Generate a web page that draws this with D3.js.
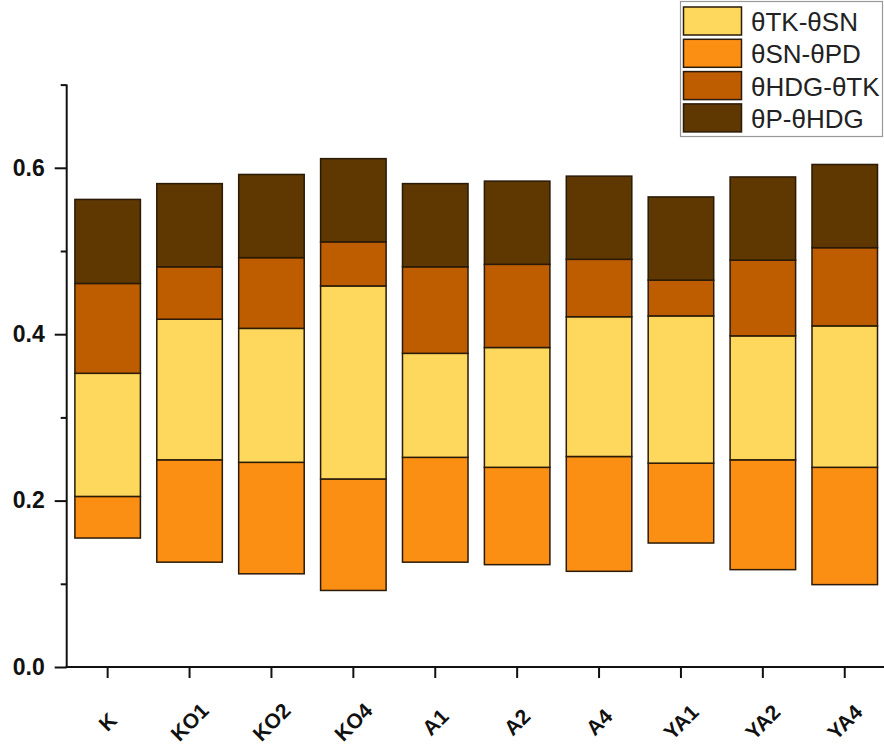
<!DOCTYPE html>
<html>
<head>
<meta charset="utf-8">
<script src="https://cdn.jsdelivr.net/npm/d3@7"></script>
<style>
  html, body { margin: 0; padding: 0; background: #fff; }
  svg { display: block; font-family: "Liberation Sans", Arial, sans-serif; }
</style>
</head>
<body>
<svg id="chart" width="884" height="749"></svg>
<script>
// Sample groups along the x axis
const categories = ["K", "KO1", "KO2", "KO4", "A1", "A2", "A4", "YA1", "YA2", "YA4"];

// Floating start of each column (lowest water content, left unfilled)
const baseLevel = [0.155, 0.126, 0.112, 0.092, 0.126, 0.123, 0.115, 0.149, 0.117, 0.099];
// Segment heights, bottom to top
const snPd  = [0.050, 0.123, 0.134, 0.134, 0.126, 0.117, 0.138, 0.096, 0.132, 0.141];
const tkSn  = [0.148, 0.169, 0.161, 0.232, 0.125, 0.144, 0.168, 0.177, 0.149, 0.170];
const hdgTk = [0.108, 0.063, 0.085, 0.053, 0.104, 0.100, 0.069, 0.043, 0.091, 0.094];
const pHdg  = [0.101, 0.100, 0.100, 0.100, 0.100, 0.100, 0.100, 0.100, 0.100, 0.100];

const yMajorTicks = [0, 0.2, 0.4, 0.6];
const yMinorTicks = [0.1, 0.3, 0.5, 0.7];

const seriesKeys = ["base", "snPd", "tkSn", "hdgTk", "pHdg"];
const seriesNames = { snPd: "θSN-θPD", tkSn: "θTK-θSN", hdgTk: "θHDG-θTK", pHdg: "θP-θHDG" };
const seriesColors = { snPd: "#fb8f14", tkSn: "#fdd85d", hdgTk: "#bd5d00", pHdg: "#5e3800" };
const legendOrder = ["tkSn", "snPd", "hdgTk", "pHdg"];

const rows = categories.map((c, i) => ({
  cat: c, base: baseLevel[i], snPd: snPd[i], tkSn: tkSn[i], hdgTk: hdgTk[i], pHdg: pHdg[i]
}));

const svg = d3.select("#chart");
const plotLeft = 66.7, plotRight = 885.7, plotTop = 84.6, plotBottom = 667;

const x = d3.scaleBand().domain(categories).range([plotLeft, plotRight])
  .paddingInner(0.2).paddingOuter(0.1);
const y = d3.scaleLinear().domain([0, 0.7]).range([plotBottom, plotTop]);

const stacked = d3.stack().keys(seriesKeys)(rows);

// Columns (the base layer stays invisible)
svg.append("g").selectAll("g")
  .data(stacked.filter(s => s.key !== "base"))
  .join("g")
  .attr("fill", s => seriesColors[s.key])
  .selectAll("rect")
  .data(s => s)
  .join("rect")
  .attr("x", d => x(d.data.cat))
  .attr("width", x.bandwidth())
  .attr("y", d => y(d[1]))
  .attr("height", d => y(d[0]) - y(d[1]))
  .attr("stroke", "#2a1a08")
  .attr("stroke-width", 1.5);

// Y axis: major ticks with labels, minor ticks without
const yAxis = svg.append("g").attr("transform", `translate(${plotLeft},0)`)
  .call(d3.axisLeft(y).tickValues(yMajorTicks).tickFormat(d3.format(".1f")).tickSize(12).tickPadding(10));
yAxis.select(".domain").attr("stroke", "#111").attr("stroke-width", 2).attr("d", `M0,${plotTop}V${plotBottom}`);
yAxis.selectAll(".tick line").attr("stroke", "#111").attr("stroke-width", 2);
yAxis.selectAll(".tick text").attr("fill", "#111").attr("font-size", 23).attr("font-weight", "bold")
  .attr("font-family", "Liberation Sans, Arial, sans-serif");

const yMinor = svg.append("g").attr("transform", `translate(${plotLeft},0)`)
  .call(d3.axisLeft(y).tickValues(yMinorTicks).tickFormat("").tickSize(6));
yMinor.select(".domain").remove();
yMinor.selectAll(".tick line").attr("stroke", "#111").attr("stroke-width", 2);

// X axis
const xAxis = svg.append("g").attr("transform", `translate(0,${plotBottom})`)
  .call(d3.axisBottom(x).tickSize(11).tickFormat(""));
xAxis.select(".domain").attr("stroke", "#111").attr("stroke-width", 2).attr("d", `M${plotLeft - 1},0H${plotRight}`);
xAxis.selectAll(".tick line").attr("stroke", "#111").attr("stroke-width", 2);

svg.append("g").selectAll("text")
  .data(categories)
  .join("text")
  .attr("transform", d => `translate(${x(d) + x.bandwidth() / 2},722) rotate(-45)`)
  .attr("text-anchor", "middle")
  .attr("dy", "0.35em")
  .attr("font-size", 21)
  .attr("font-weight", "bold")
  .attr("fill", "#111")
  .text(d => d);

// Legend
const legend = svg.append("g");
legend.append("rect")
  .attr("x", 680.5).attr("y", 1.5).attr("width", 202).attr("height", 135)
  .attr("fill", "#fff").attr("stroke", "#999").attr("stroke-width", 1.2);
const item = legend.selectAll("g.item")
  .data(legendOrder)
  .join("g")
  .attr("class", "item")
  .attr("transform", (d, i) => `translate(0,${7 + i * 32.3})`);
item.append("rect")
  .attr("x", 683.5).attr("y", 0).attr("width", 58).attr("height", 28)
  .attr("fill", d => seriesColors[d]).attr("stroke", "#2a1a08").attr("stroke-width", 1.5);
const labels = item.append("text")
  .attr("x", 751).attr("y", 24)
  .attr("font-size", 26)
  .attr("fill", "#222")
  .text(d => seriesNames[d]);

// Narrow the legend glyphs slightly so the widest entry stays inside the frame
const widest = d3.max(labels.nodes(), n => n.getComputedTextLength());
const room = 129;
if (widest > room) {
  const k = room / widest;
  labels.each(function () {
    const len = this.getComputedTextLength();
    d3.select(this).attr("textLength", len * k).attr("lengthAdjust", "spacingAndGlyphs");
  });
}
</script>
</body>
</html>
